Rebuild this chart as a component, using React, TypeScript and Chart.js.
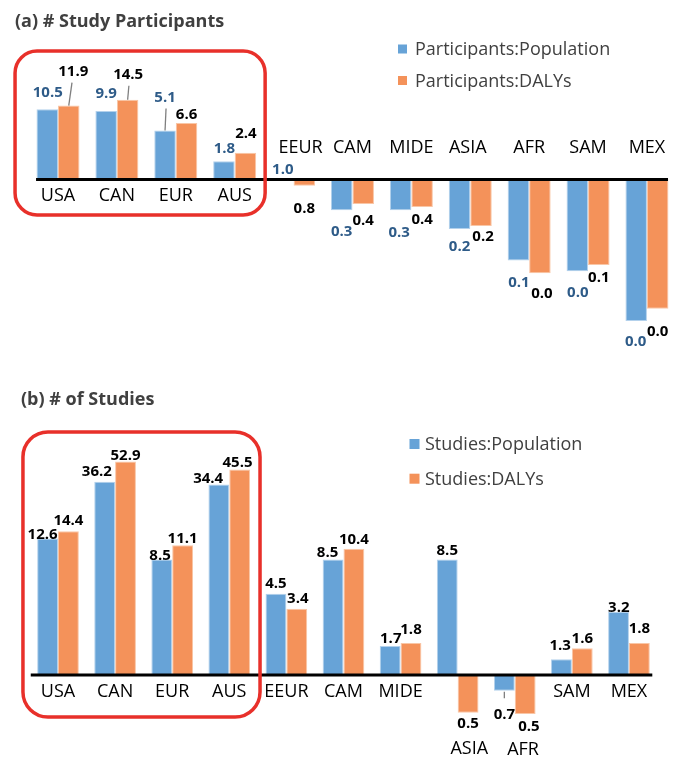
import React, { useEffect, useRef } from "react";
import { Chart, registerables } from "chart.js";

Chart.register(...registerables);

const FONT = '"Open Sans", "Noto Sans", sans-serif';

// ---------- Data ----------
const regions = ["USA", "CAN", "EUR", "AUS", "EEUR", "CAM", "MIDE", "ASIA", "AFR", "SAM", "MEX"];

const participantsPopulation = [10.5, 9.9, 5.1, 1.8, 1.0, 0.34, 0.34, 0.18, 0.062, 0.043, 0.0079];
const participantsDALYs = [11.9, 14.5, 6.6, 2.4, 0.78, 0.42, 0.38, 0.2, 0.04, 0.053, 0.012];

const studiesPopulation = [12.6, 36.2, 8.5, 34.4, 4.5, 8.5, 1.7, 8.5, 0.74, 1.33, 3.2];
const studiesDALYs = [14.4, 52.9, 11.1, 45.5, 3.4, 10.4, 1.8, 0.49, 0.48, 1.63, 1.8];

const legendA = ["Participants:Population", "Participants:DALYs"];
const legendB = ["Studies:Population", "Studies:DALYs"];

// ---------- Label nudges (style) ----------
const gapsA = [
  [17.6, 18, 34, 14, 10, 20.7, 21.7, 17, 21, 20.7, 19.7],
  [35, 26, 9, 20, 21.6, 16, 11.7, 9.7, 19.4, 12, 21.7],
];
const dxA = [
  [0.5, 0, 0, 0.5, 0, 0, -1.5, 0, 0.5, 0.5, -0.5],
  [4.5, 0.5, 0, 0.5, 0, 0, 0, 2, 2, 0, 0],
];
const gapsB = [
  [5, 11.6, 5.3, 7.3, 11.3, 7.6, 8.7, 10, 22.6, 14.3, 5.3],
  [12, 6.7, 7.3, 7.6, 10.7, 10, 14, 10, 11.7, 11, 15],
];
const dxB = [
  [-5, -7.8, -1.7, -10.7, 0, -5.5, 0.6, 0, 0, -1.3, 0.3],
  [0, 0, 0, -2.2, 1, 0, 0, 0, 3.8, 0, 0],
];
const catDxA = [0, 0, 0, 0, 7, 0, 0, -2.5, 0, 0, 0];
const catDxB = [0, 0, 0, 0, 0, 0, 0, 11.6, 8.3, 0, 0];

const BLUE = "#67A3D7";
const ORANGE = "#F4925A";

type Cfg = {
  height: number;
  title: string;
  titleX: number;
  titleY: number;
  legend: string[];
  legendBoxX: number;
  legendBoxSize: number;
  legendTextX: number;
  legendRowsY: number[];
  series: number[][];
  gaps: number[][];
  dxs: number[][];
  catDx: number[];
  valueColors: string[];
  leaders: [number, number][];
  baseline: number;
  ppd: number;
  padding: { left: number; right: number; top: number; bottom: number };
  axisInset: [number, number];
  axisShift: number;
  hl: { padL: number; padR: number; up: number; down: number; r: number };
  catMode: "flip" | "under";
};

function makeDecor(cfg: Cfg) {
  return {
    id: "panelDecor",
    afterDatasetsDraw(chart: any) {
      const ctx: CanvasRenderingContext2D = chart.ctx;
      const xs = chart.scales.x;
      const ys = chart.scales.y;
      const area = chart.chartArea;
      const base = ys.getPixelForValue(1);
      const catW = (area.right - area.left) / regions.length;
      ctx.save();

      // baseline axis line
      ctx.strokeStyle = "#000";
      ctx.lineWidth = 3;
      ctx.beginPath();
      ctx.moveTo(area.left + cfg.axisInset[0], base + cfg.axisShift);
      ctx.lineTo(area.right - cfg.axisInset[1], base + cfg.axisShift);
      ctx.stroke();

      // value labels + leader lines
      ctx.textAlign = "center";
      ctx.textBaseline = "alphabetic";
      const bottoms: number[] = regions.map(() => base);
      chart.data.datasets.forEach((ds: any, di: number) => {
        const meta = chart.getDatasetMeta(di);
        meta.data.forEach((el: any, i: number) => {
          const v = ds.data[i] as number;
          const bx = el.x;
          const by = el.y;
          const positive = v >= 1;
          if (!positive) bottoms[i] = Math.max(bottoms[i], by);
          const gap = cfg.gaps[di][i];
          const lx = bx + cfg.dxs[di][i];
          const ly = positive ? by - gap : by + gap;
          ctx.font = `bold 15px ${FONT}`;
          ctx.fillStyle = cfg.valueColors[di];
          ctx.fillText(v.toFixed(1), lx, ly + 0.357 * 15);
          if (cfg.leaders.some(([c, d]) => c === i && d === di)) {
            ctx.strokeStyle = "#7F7F7F";
            ctx.lineWidth = 1.3;
            ctx.beginPath();
            if (positive) {
              ctx.moveTo(bx, by);
              ctx.lineTo((bx + lx) / 2 + 1, ly + 12);
            } else {
              ctx.moveTo(bx, by + 1);
              ctx.lineTo((bx + lx) / 2, ly - 15);
            }
            ctx.stroke();
          }
        });
      });

      // category labels
      ctx.font = `18px ${FONT}`;
      ctx.fillStyle = "#000";
      regions.forEach((name, i) => {
        const cx = xs.getPixelForValue(i) + cfg.catDx[i];
        const neg = cfg.series.some((s) => s[i] < 1);
        let cy: number;
        if (cfg.catMode === "flip") {
          cy = neg ? base - 32 : base + 16.5;
        } else {
          cy = neg ? bottoms[i] + 35 : base + 16;
        }
        ctx.fillText(name, cx, cy + 0.357 * 18);
      });

      // highlight rounded rectangle around first four regions
      const left = xs.getPixelForValue(0) - catW / 2 - cfg.hl.padL;
      const right = xs.getPixelForValue(3) + catW / 2 + cfg.hl.padR;
      const top = base - cfg.hl.up;
      const bottom = base + cfg.hl.down;
      ctx.strokeStyle = "#E8302A";
      ctx.lineWidth = 3.5;
      ctx.beginPath();
      (ctx as any).roundRect(left, top, right - left, bottom - top, cfg.hl.r);
      ctx.stroke();

      // legend
      ctx.textAlign = "left";
      ctx.font = `18px ${FONT}`;
      cfg.legend.forEach((lbl, k) => {
        const ry = cfg.legendRowsY[k];
        ctx.fillStyle = k === 0 ? BLUE : ORANGE;
        const s = cfg.legendBoxSize;
        ctx.fillRect(cfg.legendBoxX, ry - s / 2, s, s);
        ctx.fillStyle = "#404040";
        ctx.fillText(lbl, cfg.legendTextX, ry + 0.357 * 18);
      });

      // title
      ctx.font = `bold 18px ${FONT}`;
      ctx.fillStyle = "#404040";
      ctx.fillText(cfg.title, cfg.titleX, cfg.titleY);

      ctx.restore();
    },
  };
}

function Panel({ cfg, top }: { cfg: Cfg; top: number }) {
  const ref = useRef<HTMLCanvasElement | null>(null);
  useEffect(() => {
    if (!ref.current) return;
    const areaTop = cfg.padding.top;
    const areaBottom = cfg.height - cfg.padding.bottom;
    const yMax = Math.pow(10, (cfg.baseline - areaTop) / cfg.ppd);
    const yMin = Math.pow(10, -(areaBottom - cfg.baseline) / cfg.ppd);
    const chart = new Chart(ref.current, {
      type: "bar",
      data: {
        labels: regions,
        datasets: [
          {
            label: cfg.legend[0],
            data: cfg.series[0],
            backgroundColor: BLUE,
            borderColor: "#B3D1EC",
            borderWidth: 1,
            base: 1,
            categoryPercentage: 0.73,
            barPercentage: 1.0,
          } as any,
          {
            label: cfg.legend[1],
            data: cfg.series[1],
            backgroundColor: ORANGE,
            borderColor: "#F9C6A6",
            borderWidth: 1,
            base: 1,
            categoryPercentage: 0.73,
            barPercentage: 1.0,
          } as any,
        ],
      },
      options: {
        responsive: false,
        animation: false,
        events: [],
        layout: { padding: cfg.padding },
        plugins: {
          legend: { display: false },
          tooltip: { enabled: false },
          title: { display: false },
        },
        scales: {
          x: { display: false, grid: { display: false } },
          y: {
            type: "logarithmic",
            display: false,
            min: yMin,
            max: yMax,
            bounds: "data",
          } as any,
        },
      },
      plugins: [makeDecor(cfg)],
    });
    return () => chart.destroy();
  }, [cfg]);
  return (
    <canvas
      ref={ref}
      width={679}
      height={cfg.height}
      style={{ position: "absolute", left: 0, top, width: 679, height: cfg.height }}
    />
  );
}

const cfgA: Cfg = {
  height: 378,
  title: "(a) # Study Participants",
  titleX: 15,
  titleY: 26.5,
  legend: legendA,
  legendBoxX: 398,
  legendBoxSize: 9,
  legendTextX: 415,
  legendRowsY: [49, 80.5],
  series: [participantsPopulation, participantsDALYs],
  gaps: gapsA,
  dxs: dxA,
  catDx: catDxA,
  valueColors: ["#2E5B88", "#000000"],
  leaders: [
    [0, 1],
    [1, 1],
    [2, 0],
  ],
  baseline: 178.5,
  ppd: 67.8,
  padding: { left: 28.55, right: 2.6, top: 40, bottom: 8 },
  axisInset: [7.5, 8.4],
  axisShift: 1,
  hl: { padL: 13.5, padR: 1, up: 127.5, down: 36.5, r: 22 },
  catMode: "flip",
};

const cfgB: Cfg = {
  height: 379,
  title: "(b) # of Studies",
  titleX: 21,
  titleY: 27,
  legend: legendB,
  legendBoxX: 409.5,
  legendBoxSize: 10,
  legendTextX: 425,
  legendRowsY: [66, 100.7],
  series: [studiesPopulation, studiesDALYs],
  gaps: gapsB,
  dxs: dxB,
  catDx: catDxB,
  valueColors: ["#000000", "#000000"],
  leaders: [[8, 0]],
  baseline: 296.5,
  ppd: 123.6,
  padding: { left: 29.45, right: 21.5, top: 40, bottom: 9 },
  axisInset: [1.3, 5.2],
  axisShift: 0.5,
  hl: { padL: 6.5, padR: 2.2, up: 242.5, down: 42.5, r: 25 },
  catMode: "under",
};

export default function App() {
  return (
    <div
      style={{
        position: "fixed",
        left: 0,
        top: 0,
        width: 679,
        height: 757,
        overflow: "hidden",
        background: "#fff",
      }}
    >
      <Panel cfg={cfgA} top={0} />
      <Panel cfg={cfgB} top={378} />
    </div>
  );
}
